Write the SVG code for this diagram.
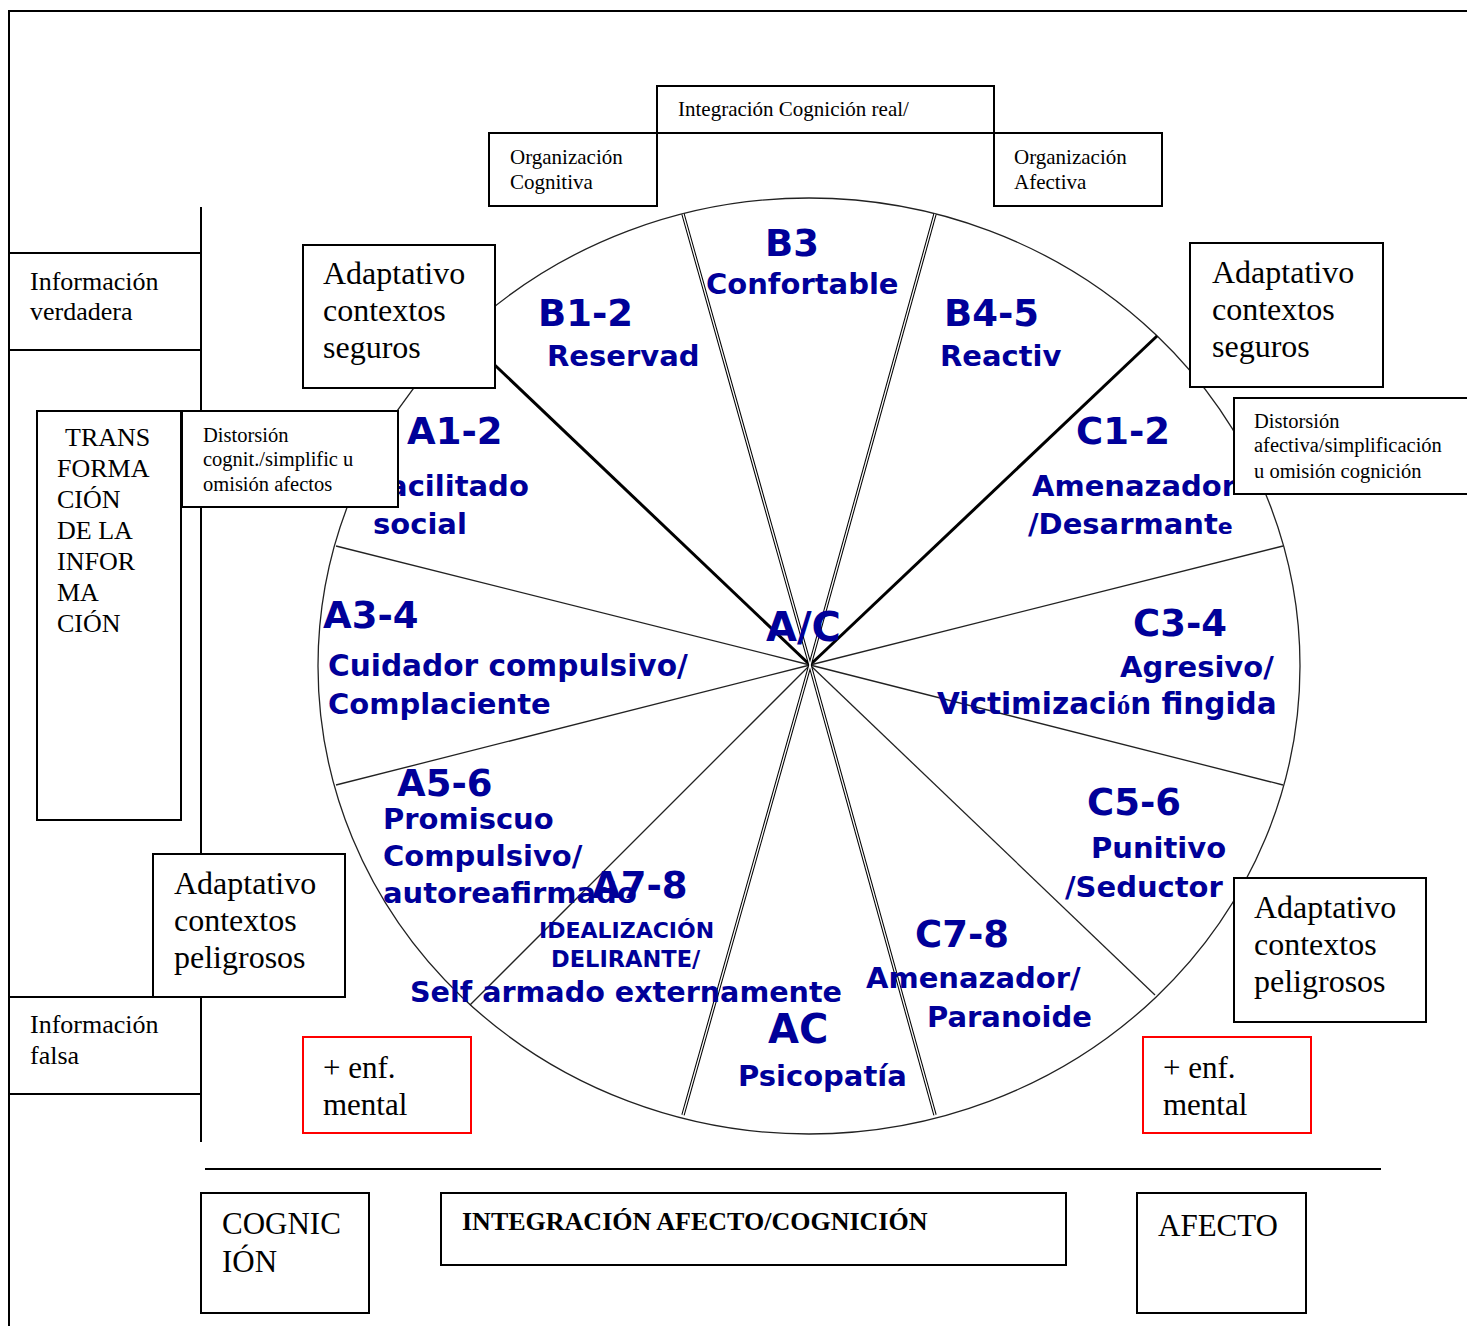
<svg xmlns="http://www.w3.org/2000/svg" width="1467" height="1326" viewBox="0 0 1467 1326">
<style>
.bx{fill:#fff;stroke:#000;stroke-width:2}
.rb{fill:#fff;stroke:#f00;stroke-width:2}
.ln{stroke:#000;stroke-width:2;fill:none}
.thin{stroke:#222;stroke-width:1.3;fill:none}
.thick{stroke:#000;stroke-width:3;fill:none}
.dbl{stroke:#000;stroke-width:3.4;fill:none}
.dbw{stroke:#fff;stroke-width:1.3;fill:none}
.t{font-family:"Liberation Serif","Times New Roman",serif;fill:#000}
.b{font-family:"DejaVu Sans",Verdana,sans-serif;font-weight:bold;fill:#000099}
.big{font-size:37px}
.sub{font-size:29px}
</style>
<rect width="1467" height="1326" fill="#fff"/>
<g id="frame">
<line class="ln" x1="8" y1="11" x2="1467" y2="11"/>
<line class="ln" x1="9" y1="11" x2="9" y2="1326"/>
<line class="ln" x1="201" y1="207" x2="201" y2="1142"/>
<line class="ln" x1="205" y1="1169" x2="1381" y2="1169"/>
</g>
<g id="wheel">
<ellipse cx="809" cy="666" rx="491" ry="468" fill="none" stroke="#222" stroke-width="1.3"/>
</g>
<g id="connectors">
<line class="thick" x1="480" y1="351" x2="810" y2="665"/>
<line class="thick" x1="1157" y1="336" x2="810" y2="665"/>
<line class="thin" x1="1283" y1="546" x2="810" y2="665"/>
<line class="thin" x1="1283" y1="785" x2="810" y2="665"/>
<line class="thin" x1="1155" y1="995" x2="810" y2="665"/>
<line class="thin" x1="470" y1="1005" x2="810" y2="665"/>
<line class="thin" x1="336" y1="785" x2="810" y2="665"/>
<line class="thin" x1="336" y1="546" x2="810" y2="665"/>
<line class="dbl" x1="683" y1="214" x2="810" y2="665"/>
<line class="dbl" x1="935" y1="214" x2="810" y2="665"/>
<line class="dbl" x1="935" y1="1115" x2="810" y2="665"/>
<line class="dbl" x1="683" y1="1115" x2="810" y2="665"/>
<line class="dbw" x1="683" y1="214" x2="810" y2="665"/>
<line class="dbw" x1="935" y1="214" x2="810" y2="665"/>
<line class="dbw" x1="935" y1="1115" x2="810" y2="665"/>
<line class="dbw" x1="683" y1="1115" x2="810" y2="665"/>
</g>
<g id="labels">
<text class="b big" x="765" y="256">B3</text>
<text class="b sub" x="706" y="294">Confortable</text>
<text class="b big" x="538" y="326">B1-2</text>
<text class="b sub" x="547" y="366">Reservad</text>
<text class="b big" x="944" y="326">B4-5</text>
<text class="b sub" x="940" y="366">Reactiv</text>
<text class="b big" x="407" y="444">A1-2</text>
<text class="b sub" x="370" y="496">Facilitado</text>
<text class="b sub" x="373" y="534">social</text>
<text class="b big" x="323" y="628">A3-4</text>
<text class="b" x="328" y="676" font-size="29.6">Cuidador compulsivo/</text>
<text class="b sub" x="328" y="714">Complaciente</text>
<text class="b" x="766" y="641" font-size="40">A/C</text>
<text class="b big" x="1076" y="444">C1-2</text>
<text class="b sub" x="1032" y="496">Amenazador</text>
<text class="b sub" x="1028" y="534">/Desarmant<tspan font-size="22">e</tspan></text>
<text class="b big" x="1133" y="636">C3-4</text>
<text class="b sub" x="1120" y="677">Agresivo/</text>
<text class="b" x="937" y="714" font-size="29.5">Victimizaci<tspan font-family="Liberation Serif" font-size="27">ó</tspan>n fingida</text>
<text class="b big" x="1087" y="815">C5-6</text>
<text class="b sub" x="1091" y="858">Punitivo</text>
<text class="b sub" x="1065" y="897">/Seductor</text>
<text class="b big" x="915" y="947">C7-8</text>
<text class="b sub" x="866" y="988">Amenazador/</text>
<text class="b sub" x="927" y="1027">Paranoide</text>
<text class="b" x="768" y="1043" font-size="40">AC</text>
<text class="b sub" x="738" y="1086">Psicopatía</text>
<text class="b big" x="397" y="796">A5-6</text>
<text class="b sub" x="383" y="829">Promiscuo</text>
<text class="b sub" x="383" y="866">Compulsivo/</text>
<text class="b sub" x="383" y="903">autoreafirmado</text>
<text class="b big" x="592" y="898">A7-8</text>
<text class="b" x="539" y="938" font-size="22">IDEALIZACIÓN</text>
<text class="b" x="551" y="967" font-size="22.5">DELIRANTE/</text>
<text class="b" x="410" y="1002" font-size="28.6">Self armado externamente</text>
</g>
<g id="n-integracion-top">
<rect class="bx" x="657" y="86" width="337" height="47"/>
<text class="t" x="678" y="116" font-size="21">Integración Cognición real/</text>
</g>
<g id="n-org-cognitiva">
<rect class="bx" x="489" y="133" width="168" height="73"/>
<text class="t" x="510" y="164" font-size="21">Organización</text>
<text class="t" x="510" y="189" font-size="21">Cognitiva</text>
</g>
<g id="n-org-afectiva">
<rect class="bx" x="994" y="133" width="168" height="73"/>
<text class="t" x="1014" y="164" font-size="21">Organización</text>
<text class="t" x="1014" y="189" font-size="21">Afectiva</text>
</g>
<g id="n-info-verdadera">
<rect class="bx" x="9" y="253" width="192" height="97"/>
<text class="t" x="30" y="290" font-size="26">Información</text>
<text class="t" x="30" y="320" font-size="26">verdadera</text>
</g>
<g id="n-adapt-seguros-izq">
<rect class="bx" x="303" y="245" width="192" height="143"/>
<text class="t" x="323" y="284" font-size="32">Adaptativo</text>
<text class="t" x="323" y="321" font-size="32">contextos</text>
<text class="t" x="323" y="358" font-size="32">seguros</text>
</g>
<g id="n-adapt-seguros-der">
<rect class="bx" x="1190" y="243" width="193" height="144"/>
<text class="t" x="1212" y="283" font-size="32">Adaptativo</text>
<text class="t" x="1212" y="320" font-size="32">contextos</text>
<text class="t" x="1212" y="357" font-size="32">seguros</text>
</g>
<g id="n-transformacion">
<rect class="bx" x="37" y="411" width="144" height="409"/>
<text class="t" font-size="26"><tspan x="65" y="446">TRANS</tspan><tspan x="57" y="477">FORMA</tspan><tspan x="57" y="508">CIÓN</tspan><tspan x="57" y="539">DE LA</tspan><tspan x="57" y="570">INFOR</tspan><tspan x="57" y="601">MA</tspan><tspan x="57" y="632">CIÓN</tspan></text>
</g>
<g id="n-distorsion-cognit">
<rect class="bx" x="182" y="411" width="216" height="96"/>
<text class="t" x="203" y="442" font-size="20.5">Distorsión</text>
<text class="t" x="203" y="466" font-size="20.5">cognit./simplific u</text>
<text class="t" x="203" y="491" font-size="20.5">omisión afectos</text>
</g>
<g id="n-distorsion-afect">
<rect class="bx" x="1234" y="398" width="240" height="96"/>
<text class="t" x="1254" y="428" font-size="20.5">Distorsión</text>
<text class="t" x="1254" y="452" font-size="20.5">afectiva/simplificación</text>
<text class="t" x="1254" y="478" font-size="20.5">u omisión cognición</text>
</g>
<g id="n-adapt-peligrosos-izq">
<rect class="bx" x="153" y="854" width="192" height="143"/>
<text class="t" x="174" y="894" font-size="32">Adaptativo</text>
<text class="t" x="174" y="931" font-size="32">contextos</text>
<text class="t" x="174" y="968" font-size="32">peligrosos</text>
</g>
<g id="n-adapt-peligrosos-der">
<rect class="bx" x="1234" y="878" width="192" height="144"/>
<text class="t" x="1254" y="918" font-size="32">Adaptativo</text>
<text class="t" x="1254" y="955" font-size="32">contextos</text>
<text class="t" x="1254" y="992" font-size="32">peligrosos</text>
</g>
<g id="n-info-falsa">
<rect class="bx" x="9" y="997" width="192" height="97"/>
<text class="t" x="30" y="1033" font-size="26">Información</text>
<text class="t" x="30" y="1064" font-size="26">falsa</text>
</g>
<g id="n-enf-izq">
<rect class="rb" x="303" y="1037" width="168" height="96"/>
<text class="t" x="323" y="1078" font-size="31">+ enf.</text>
<text class="t" x="323" y="1115" font-size="31">mental</text>
</g>
<g id="n-enf-der">
<rect class="rb" x="1143" y="1037" width="168" height="96"/>
<text class="t" x="1163" y="1078" font-size="31">+ enf.</text>
<text class="t" x="1163" y="1115" font-size="31">mental</text>
</g>
<g id="n-cognicion">
<rect class="bx" x="201" y="1193" width="168" height="120"/>
<text class="t" x="222" y="1234" font-size="31">COGNIC</text>
<text class="t" x="222" y="1272" font-size="31">IÓN</text>
</g>
<g id="n-integracion-bottom">
<rect class="bx" x="441" y="1193" width="625" height="72"/>
<text class="t" x="462" y="1230" font-size="26" font-weight="bold">INTEGRACIÓN AFECTO/COGNICIÓN</text>
</g>
<g id="n-afecto">
<rect class="bx" x="1137" y="1193" width="169" height="120"/>
<text class="t" x="1158" y="1236" font-size="31">AFECTO</text>
</g>
</svg>
